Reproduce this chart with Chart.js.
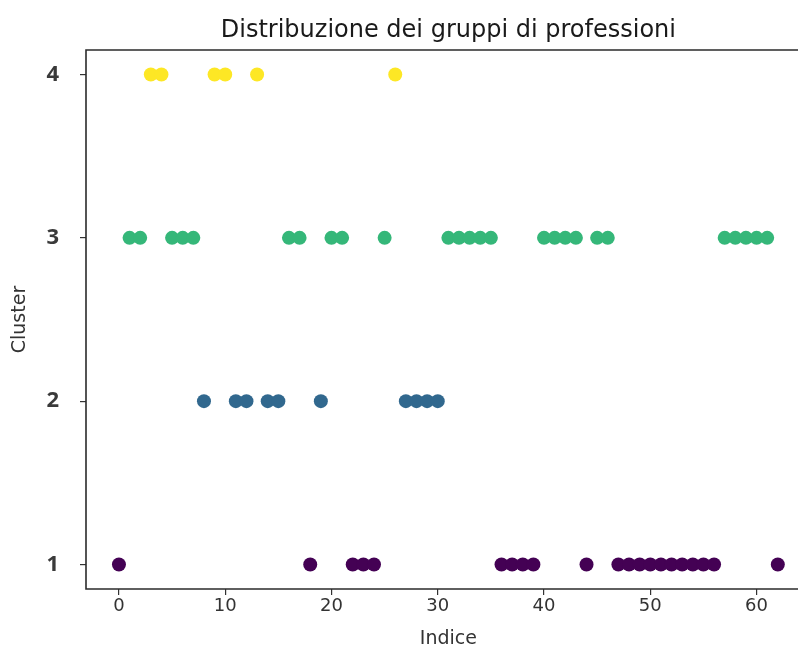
<!DOCTYPE html>
<html>
<head>
<meta charset="utf-8">
<script src="https://cdn.jsdelivr.net/npm/chart.js@4.4.1/dist/chart.umd.min.js"></script>
<style>
  html, body { margin: 0; padding: 0; background: #ffffff; overflow: hidden; }
  canvas { display: block; }
</style>
</head>
<body>
<canvas id="c" width="798" height="648" style="width:798px;height:648px;"></canvas>
<script>
// ---- Data ----
const indices = [0,1,2,3,4,5,6,7,8,9,10,11,12,13,14,15,16,17,18,19,20,21,22,23,24,25,26,27,28,29,30,31,32,33,34,35,36,37,38,39,40,41,42,43,44,45,46,47,48,49,50,51,52,53,54,55,56,57,58,59,60,61,62];
const clusters = [1,3,3,4,4,3,3,3,2,4, 4,2,2,4,2,2,3,3,1,2, 3,3,1,1,1,3,4,2,2,2, 2,3,3,3,3,3,1,1,1,1, 3,3,3,3,1,3,3,1,1,1, 1,1,1,1,1,1,1,3,3,3, 3,3,1];
const xTickValues = [0,10,20,30,40,50,60];
const yTickValues = [1,2,3,4];
const clusterColors = { 1: '#440154', 2: '#31688e', 3: '#35b779', 4: '#fde725' };
const titleText = 'Distribuzione dei gruppi di professioni';
const xLabel = 'Indice';
const yLabel = 'Cluster';
// full axes x-range of the original figure (its right part is cropped off the picture)
const xFullMin = -3.1, xFullMax = 65.1, xVisibleMax = 63.9;

const points = indices.map((x, i) => ({ x: x, y: clusters[i] }));
const colors = clusters.map(c => clusterColors[c]);

const framePlugin = {
  id: 'frame',
  afterDatasetsDraw(chart) {
    const { ctx, chartArea: a } = chart;
    ctx.save();
    ctx.strokeStyle = '#2b2b2b';
    ctx.lineWidth = 1.6;
    ctx.beginPath();
    ctx.moveTo(chart.width + 2, a.top);
    ctx.lineTo(a.left, a.top);
    ctx.lineTo(a.left, a.bottom);
    ctx.lineTo(chart.width + 2, a.bottom);
    ctx.stroke();
    ctx.restore();
  },
  afterDraw(chart) {
    const { ctx } = chart;
    const xs = chart.scales.x;
    const cx = xs.getPixelForValue((xFullMin + xFullMax) / 2);
    ctx.save();
    ctx.textAlign = 'center';
    ctx.textBaseline = 'alphabetic';
    ctx.fillStyle = '#1a1a1a';
    ctx.font = 'normal 24px "DejaVu Sans"';
    ctx.fillText(titleText, cx, 37);
    ctx.fillStyle = '#333';
    ctx.font = 'normal 19px "DejaVu Sans"';
    ctx.fillText(xLabel, cx, 644);
    ctx.restore();
  }
};

new Chart(document.getElementById('c'), {
  type: 'scatter',
  data: {
    datasets: [{
      data: points,
      pointBackgroundColor: colors,
      pointBorderWidth: 0,
      pointRadius: 7,
      pointHoverRadius: 7
    }]
  },
  options: {
    responsive: false,
    devicePixelRatio: 1,
    animation: false,
    layout: { autoPadding: false, padding: { top: 50, right: 0, left: 0, bottom: 0 } },
    plugins: {
      legend: { display: false },
      tooltip: { enabled: false },
      title: { display: false }
    },
    scales: {
      x: {
        type: 'linear',
        min: xFullMin,
        max: xVisibleMax,
        afterBuildTicks: (axis) => { axis.ticks = xTickValues.map(v => ({ value: v })); },
        afterFit: (scale) => { scale.height = 59; },
        border: { display: false },
        grid: { display: true, drawOnChartArea: false, drawTicks: true, tickLength: 6, color: '#333', lineWidth: 1.2 },
        ticks: { color: '#333', padding: 1, font: { family: 'DejaVu Sans', size: 18 } },
        title: { display: false }
      },
      y: {
        type: 'linear',
        min: 0.85,
        max: 4.15,
        afterBuildTicks: (axis) => { axis.ticks = yTickValues.map(v => ({ value: v })); },
        afterFit: (scale) => { scale.width = 86; },
        border: { display: false },
        grid: { display: true, drawOnChartArea: false, drawTicks: true, tickLength: 6, color: '#333', lineWidth: 1.2 },
        ticks: { color: '#3a3a3a', padding: 21, font: { family: 'Open Sans', size: 22, weight: 'bold' } },
        title: { display: true, text: yLabel, color: '#333', padding: { top: 9, bottom: 0 }, font: { family: 'DejaVu Sans', size: 19 } }
      }
    }
  },
  plugins: [framePlugin]
});
</script>
</body>
</html>
